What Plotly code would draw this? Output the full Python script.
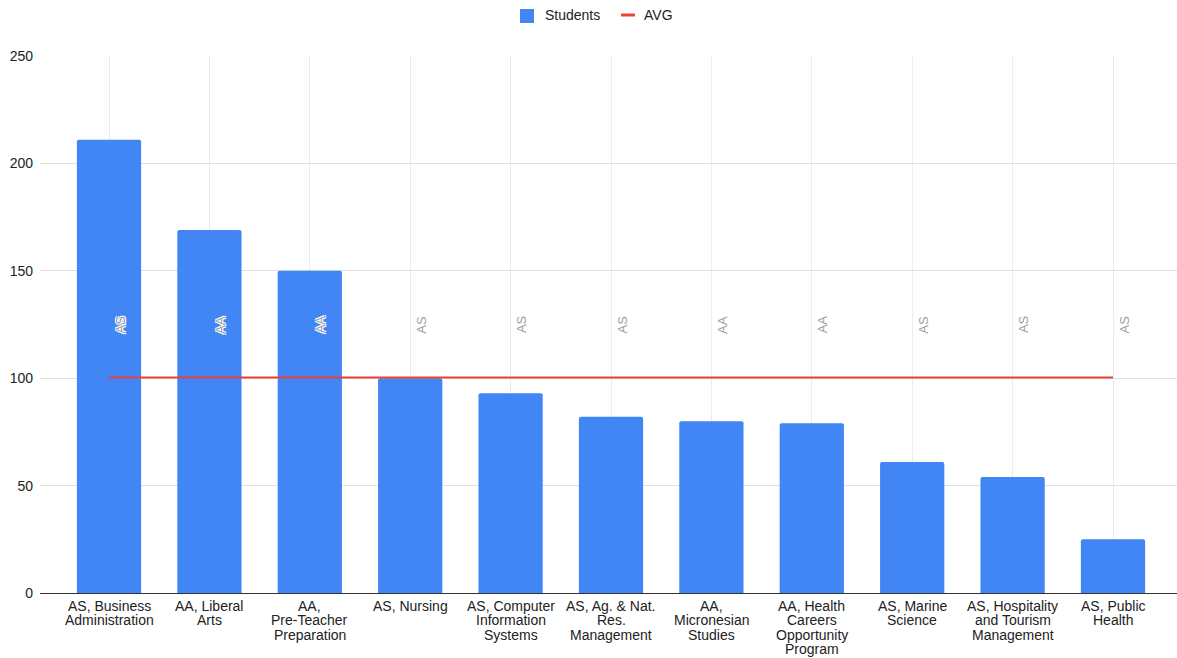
import plotly.graph_objects as go

# ---- data ----
categories = [
    "AS, Business\nAdministration",
    "AA, Liberal\nArts",
    "AA,\nPre-Teacher\nPreparation",
    "AS, Nursing",
    "AS, Computer\nInformation\nSystems",
    "AS, Ag. & Nat.\nRes.\nManagement",
    "AA,\nMicronesian\nStudies",
    "AA, Health\nCareers\nOpportunity\nProgram",
    "AS, Marine\nScience",
    "AS, Hospitality\nand Tourism\nManagement",
    "AS, Public\nHealth",
]
students = [211, 169, 150, 100, 93, 82, 80, 79, 61, 54, 25]
avg = [100.36, 100.36, 100.36, 100.36, 100.36, 100.36, 100.36, 100.36, 100.36, 100.36, 100.36]
degree = ["AS", "AA", "AA", "AS", "AS", "AS", "AA", "AA", "AS", "AS", "AS"]
y_ticks = [0, 50, 100, 150, 200, 250]

# ---- layout constants ----
W, H = 1177, 658
ML, MR, MT, MB = 40, 0, 56, 65
PW, PH = W - ML - MR, H - MT - MB
FIRST_CENTER_PX = 109
STEP_PX = 100.4
x_lo = -(FIRST_CENTER_PX - ML) / STEP_PX
x_hi = x_lo + PW / STEP_PX

BLUE = "#4285F4"
RED = "#EA4335"
TXT = "#222222"
FONT = "Liberation Sans, Arial, sans-serif"

xs = list(range(len(categories)))

fig = go.Figure()
fig.add_trace(go.Bar(
    x=xs, y=students, name="Students", marker=dict(color=BLUE, line=dict(width=0)),
    width=0.64, showlegend=False, hoverinfo="y",
))
fig.add_trace(go.Scatter(
    x=xs, y=avg, name="AVG", mode="lines", line=dict(color=RED, width=2),
    showlegend=False,
))

annotations = []
# category labels (multi-line, tight line spacing)
for i, cat in enumerate(categories):
    for k, line in enumerate(cat.split("\n")):
        annotations.append(dict(
            x=i, y=0, xref="x", yref="y", text=line, showarrow=False,
            xanchor="center", yanchor="middle", yshift=-(13 + 14.3 * k),
            font=dict(family=FONT, size=14, color=TXT),
        ))
# degree labels
for i, d in enumerate(degree):
    annotations.append(dict(
        x=i, y=125, xref="x", yref="y", text=d, showarrow=False, textangle=-90,
        xanchor="center", yanchor="middle", xshift=11,
        font=dict(family=FONT, size=13, color="#9e9e9e",
                  shadow="-1px -1px 0 #fff, 1px -1px 0 #fff, -1px 1px 0 #fff, 1px 1px 0 #fff"),
    ))

def px_x(p):
    return (p - ML) / PW

def px_y(p):
    return (H - MB - p) / PH

# manual legend
shapes = [
    dict(type="rect", xref="paper", yref="paper", x0=px_x(520), x1=px_x(534),
         y0=px_y(23), y1=px_y(9), fillcolor=BLUE, line=dict(width=0)),
    dict(type="line", xref="paper", yref="paper", x0=px_x(621), x1=px_x(635),
         y0=px_y(15), y1=px_y(15), line=dict(color=RED, width=3)),
]
annotations.append(dict(x=px_x(543), y=px_y(15), xref="paper", yref="paper", text="Students",
                        showarrow=False, xanchor="left", yanchor="middle",
                        font=dict(family=FONT, size=14, color=TXT)))
annotations.append(dict(x=px_x(642), y=px_y(15), xref="paper", yref="paper", text="AVG",
                        showarrow=False, xanchor="left", yanchor="middle",
                        font=dict(family=FONT, size=14, color=TXT)))

fig.update_layout(
    width=W, height=H,
    margin=dict(l=ML, r=MR, t=MT, b=MB, pad=0),
    paper_bgcolor="white", plot_bgcolor="white",
    barcornerradius=2,
    showlegend=False,
    annotations=annotations,
    shapes=shapes,
    xaxis=dict(
        range=[x_lo, x_hi], tickvals=xs, showticklabels=False, ticks="",
        showgrid=True, gridcolor="#ececec", gridwidth=1, zeroline=False,
        showline=False, fixedrange=True,
    ),
    yaxis=dict(
        range=[0, 250], tickvals=y_ticks, ticks="", showgrid=True,
        gridcolor="#e0e0e0", gridwidth=1, zeroline=True, zerolinecolor="#333333",
        zerolinewidth=1, showline=False,
        tickfont=dict(family=FONT, size=14, color=TXT), ticklabelstandoff=6,
    ),
    font=dict(family=FONT, size=14, color=TXT),
)

fig.write_html("out.html")
